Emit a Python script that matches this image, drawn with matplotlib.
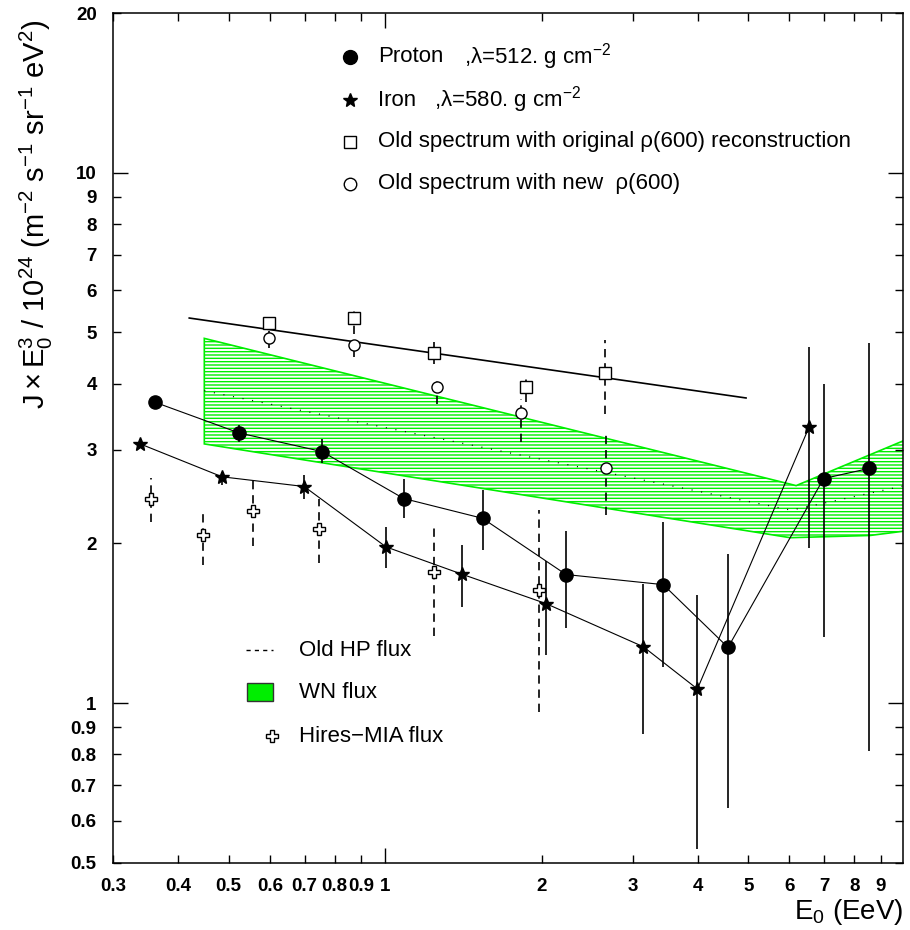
import matplotlib
matplotlib.use("Agg")
import numpy as np
import matplotlib.pyplot as plt
from matplotlib.ticker import FixedLocator, FixedFormatter

plt.rcParams['font.family'] = ['Liberation Sans', 'DejaVu Sans']
plt.rcParams['mathtext.fontset'] = 'custom'
plt.rcParams['mathtext.rm'] = 'Liberation Sans'
plt.rcParams['mathtext.it'] = 'Liberation Sans:italic'
plt.rcParams['hatch.linewidth'] = 1.0

# proton, lambda = 512 g/cm2
proton_e = [0.361, 0.524, 0.756, 1.086, 1.54, 2.23, 3.43, 4.57, 6.98, 8.55]
proton_j = [3.69, 3.23, 2.98, 2.43, 2.23, 1.747, 1.672, 1.273, 2.65, 2.77]
proton_hi = [3.69, 3.34, 3.14, 2.65, 2.52, 2.11, 2.19, 1.91, 4.0, 4.77]
proton_lo = [3.69, 3.11, 2.83, 2.23, 1.946, 1.385, 1.167, 0.635, 1.33, 0.813]

# iron, lambda = 580 g/cm2
iron_e = [0.338, 0.486, 0.699, 1.004, 1.405, 2.04, 3.14, 3.99, 6.55]
iron_j = [3.08, 2.67, 2.56, 1.97, 1.75, 1.54, 1.277, 1.063, 3.32]
iron_hi = [3.08, 2.73, 2.69, 2.15, 1.99, 1.855, 1.68, 1.60, 4.69]
iron_lo = [3.08, 2.58, 2.42, 1.80, 1.52, 1.23, 0.874, 0.53, 1.96]

# old spectrum, original rho(600)
old_e = [0.599, 0.873, 1.244, 1.866, 2.65]
old_j = [5.20, 5.32, 4.57, 3.94, 4.19]
old_hi = [5.32, 5.57, 4.79, 4.10, 4.83]
old_lo = [5.10, 4.97, 4.36, 3.70, 3.50]

# old spectrum, new rho(600)
new_e = [0.597, 0.873, 1.257, 1.827, 2.66]
new_j = [4.87, 4.74, 3.94, 3.53, 2.77]
new_hi = [5.03, 4.83, 4.06, 3.75, 3.20]
new_lo = [4.67, 4.49, 3.66, 3.10, 2.26]

# straight fit through the old spectrum
fit_e = [0.42, 4.95]
fit_j = [5.32, 3.76]

# Hires-MIA
hires_e = [0.3545, 0.447, 0.558, 0.746, 1.244, 1.98]
hires_j = [2.43, 2.07, 2.30, 2.13, 1.764, 1.63]
hires_hi = [2.66, 2.29, 2.62, 2.43, 2.14, 2.31]
hires_lo = [2.19, 1.82, 1.98, 1.84, 1.34, 0.96]

# WN flux band
wn_up_e = [0.449, 6.18, 10.0]
wn_up_j = [4.87, 2.57, 3.13]
wn_lo_e = [0.449, 6.02, 8.58, 10.0]
wn_lo_j = [3.08, 2.05, 2.07, 2.11]
wn_mid_e = [0.449, 6.05, 10.0]
wn_mid_j = [3.88, 2.31, 2.57]

xticks_minor = [0.3, 0.4, 0.5, 0.6, 0.7, 0.8, 0.9, 2, 3, 4, 5, 6, 7, 8, 9]
yticks_minor = [0.5, 0.6, 0.7, 0.8, 0.9, 2, 3, 4, 5, 6, 7, 8, 9, 20]

W, H = 910, 930
fig = plt.figure(figsize=(W / 100, H / 100), dpi=100)
ax = fig.add_axes([113.3 / W, 1 - 862.7 / H, (902.5 - 113.3) / W, (862.7 - 13) / H])
ax.set_xscale('log')
ax.set_yscale('log')
ax.set_xlim(0.3, 9.9)
ax.set_ylim(0.5, 20)

green = '#00ee00'

# band
poly_e = list(wn_up_e) + list(wn_lo_e[::-1])
poly_j = list(wn_up_j) + list(wn_lo_j[::-1])
ax.fill(poly_e, poly_j, facecolor='none', edgecolor=green, hatch='-----', lw=1.2, zorder=1)
ax.plot(wn_mid_e, wn_mid_j, color='black', lw=0.9, dashes=(0.8, 7), zorder=2)

# fit line
ax.plot(fit_e, fit_j, color='black', lw=1.2, zorder=3)


def err(j, lo, hi):
    j, lo, hi = np.array(j), np.array(lo), np.array(hi)
    return [j - lo, hi - j]


def draw(e, j, lo, hi, dashed=False, **kw):
    eb = ax.errorbar(e, j, yerr=err(j, lo, hi), ecolor='black', elinewidth=1.2,
                     capsize=0, zorder=4, **kw)
    if dashed:
        eb[2][0].set_linestyle((0, (5, 3.5)))
    return eb


draw(proton_e, proton_j, proton_lo, proton_hi, fmt='o-', color='black',
     ms=9.5, lw=0.8)
draw(iron_e, iron_j, iron_lo, iron_hi, fmt='*-', color='black',
     ms=10, lw=0.8)
draw(old_e, old_j, old_lo, old_hi, dashed=True, fmt='s', mfc='white',
     mec='black', mew=1.0, ms=8)
draw(new_e, new_j, new_lo, new_hi, dashed=True, fmt='o', mfc='white',
     mec='black', mew=1.0, ms=8)
draw(hires_e, hires_j, hires_lo, hires_hi, dashed=True, fmt='P', mfc='white',
     mec='black', mew=1.0, ms=8)

# axes styling
for s in ax.spines.values():
    s.set_linewidth(1.1)
ax.xaxis.set_major_locator(FixedLocator([1, 10]))
ax.xaxis.set_major_formatter(FixedFormatter(['1', '']))
ax.xaxis.set_minor_locator(FixedLocator(xticks_minor))
ax.xaxis.set_minor_formatter(FixedFormatter([f'{v:g}' for v in xticks_minor]))
ax.yaxis.set_major_locator(FixedLocator([1, 10]))
ax.yaxis.set_major_formatter(FixedFormatter(['1', '10']))
ax.yaxis.set_minor_locator(FixedLocator(yticks_minor))
ax.yaxis.set_minor_formatter(FixedFormatter([f'{v:g}' for v in yticks_minor]))
ax.tick_params(which='both', direction='in', top=True, right=True,
               width=1.0, labelsize=13.5)
ax.tick_params(which='major', length=11)
ax.tick_params(which='minor', length=5.5)
ax.tick_params(axis='x', which='both', pad=11)
ax.tick_params(axis='y', which='both', pad=12)
for lab in ax.get_xticklabels(which='both') + ax.get_yticklabels(which='both'):
    lab.set_fontweight('bold')

fig.text(36 / W, 1 - 214 / H,
         r'$\mathrm{J \times E_0^3\ /\ 10^{24}\ (m^{-2}\ s^{-1}\ sr^{-1}\ eV^2)}$',
         rotation=90, ha='center', va='center', fontsize=21)
fig.text(903 / W, 1 - 912 / H, r'E$_0$ (EeV)', ha='right', va='center', fontsize=20)


# key positions in figure pixels
def fx(px):
    return px / W


def fy(py):
    return 1 - py / H


tf = fig.transFigure
ax.plot([fx(350)], [fy(57)], 'o', color='black', ms=10, transform=tf, clip_on=False)
ax.plot([fx(350)], [fy(100)], '*', color='black', ms=10, transform=tf, clip_on=False)
ax.plot([fx(350)], [fy(142)], 's', mfc='white', mec='black', ms=9, transform=tf, clip_on=False)
ax.plot([fx(350)], [fy(184)], 'o', mfc='white', mec='black', ms=9, transform=tf, clip_on=False)
fs = 16
fig.text(fx(378), fy(57), 'Proton', va='center', fontsize=fs)
fig.text(fx(464), fy(57), r',λ=512. g cm$^{-2}$', va='center', fontsize=fs)
fig.text(fx(378), fy(100), 'Iron', va='center', fontsize=fs)
fig.text(fx(434), fy(100), r',λ=580. g cm$^{-2}$', va='center', fontsize=fs)
fig.text(fx(378), fy(142), 'Old spectrum with original ρ(600) reconstruction',
         va='center', fontsize=fs)
fig.text(fx(378), fy(184), 'Old spectrum with new  ρ(600)', va='center', fontsize=fs)

ax.plot([fx(246), fx(273)], [fy(650), fy(650)], color='black', lw=1.0,
        dashes=(3, 3), transform=tf, clip_on=False)
fig.patches.append(plt.Rectangle((fx(247), fy(701)), (273 - 247) / W, 18 / H,
                                 facecolor=green, edgecolor='#333333', lw=1.0,
                                 transform=tf))
ax.plot([fx(272)], [fy(736)], 'P', mfc='white', mec='black', ms=9, mew=1.0,
        transform=tf, clip_on=False)
fig.text(fx(299), fy(650), 'Old HP flux', va='center', fontsize=fs)
fig.text(fx(299), fy(692), 'WN flux', va='center', fontsize=fs)
fig.text(fx(299), fy(736), 'Hires\u2212MIA flux', va='center', fontsize=fs)

fig.savefig('out.png', dpi=100, facecolor='white')
